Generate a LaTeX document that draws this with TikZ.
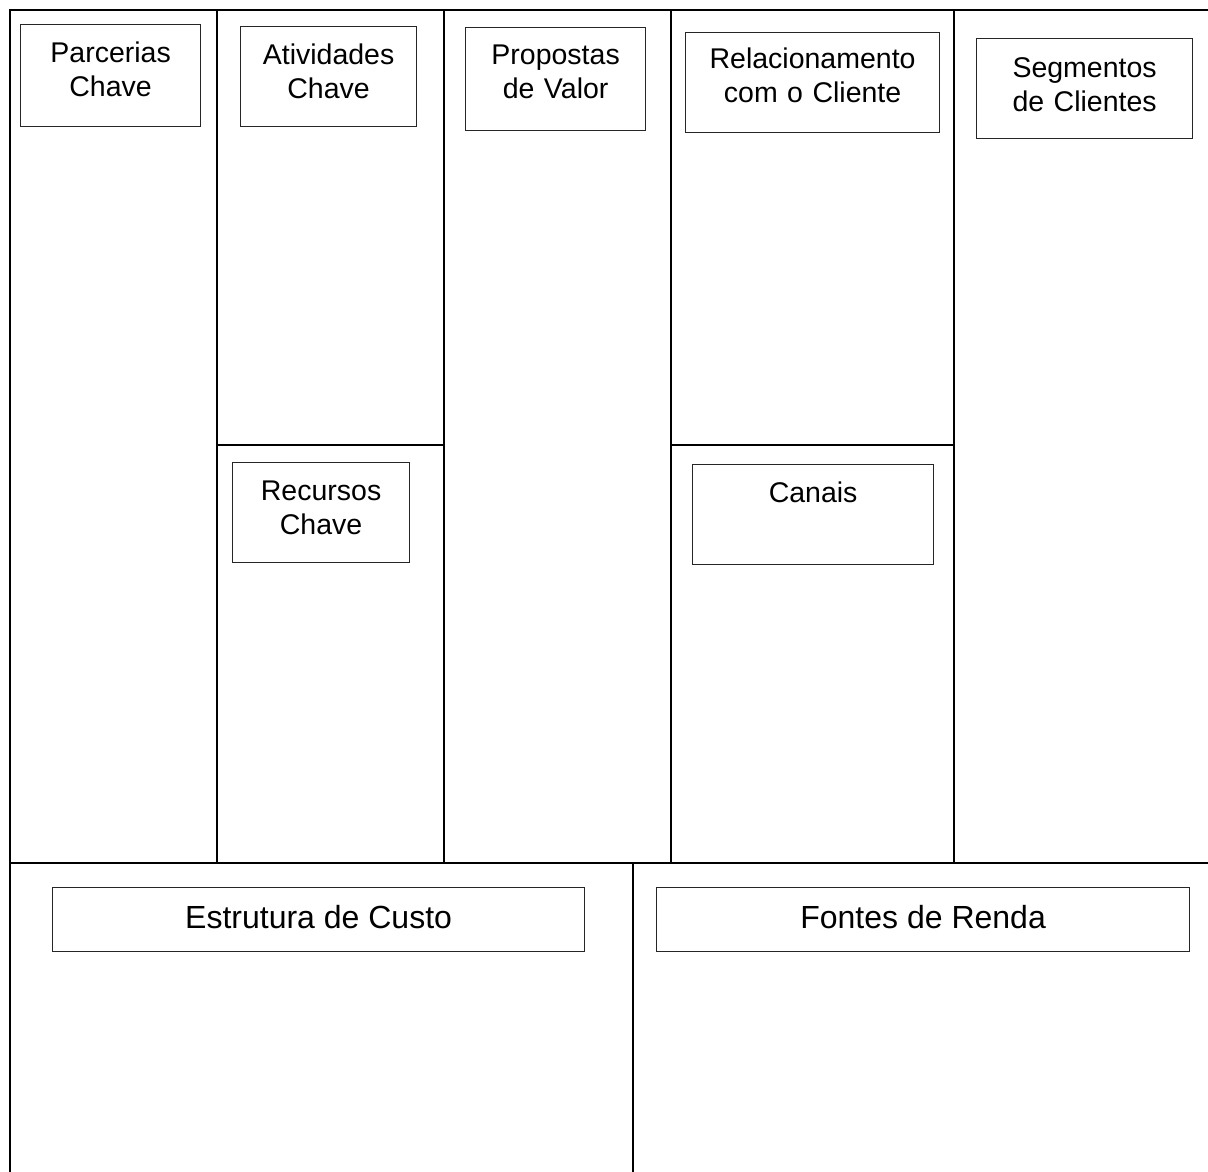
\documentclass[tikz,border=0pt]{standalone}
\usepackage{fontspec}
\setmainfont{Liberation Sans}
\begin{document}
\begin{tikzpicture}[x=1pt,y=-1pt,
  grid/.style={line width=2pt,black},
  cardbox/.style={draw=black!85,line width=1.2pt,rectangle,inner sep=0pt,anchor=north west},
  toplbl/.style={anchor=base,text width=260pt,align=center,inner sep=0pt,
    font=\fontsize{28.5}{34}\selectfont},
  botlbl/.style={anchor=base,inner sep=0pt,font=\fontsize{32}{38}\selectfont}]
\useasboundingbox (0,0) rectangle (1208,1171);
\fill[white] (0,0) rectangle (1208,1171);

% canvas frame (open to the right and the bottom)
\draw[grid] (1212,10) -- (10,10) -- (10,1175);
% column rules of the upper band
\draw[grid] (217,10) -- (217,863);
\draw[grid] (444,10) -- (444,863);
\draw[grid] (671,10) -- (671,863);
\draw[grid] (954,10) -- (954,863);
% split of the second and fourth columns
\draw[grid] (217,445) -- (444,445);
\draw[grid] (671,445) -- (954,445);
% upper / lower band boundary and the lower split
\draw[grid] (10,863) -- (1212,863);
\draw[grid] (633,863) -- (633,1175);

% title boxes
\node[cardbox,minimum width=180pt,minimum height=102pt] (pc) at (20,24) {};
\node[cardbox,minimum width=176pt,minimum height=100pt] (ac) at (240,26) {};
\node[cardbox,minimum width=180pt,minimum height=103pt] (pv) at (465,27) {};
\node[cardbox,minimum width=254pt,minimum height=100pt] (rc) at (685,32) {};
\node[cardbox,minimum width=216pt,minimum height=100pt] (sc) at (976,38) {};
\node[cardbox,minimum width=177pt,minimum height=100pt] (rk) at (232,462) {};
\node[cardbox,minimum width=241pt,minimum height=100pt] (cn) at (692,464) {};
\node[cardbox,minimum width=532pt,minimum height=64pt] (ec) at (52,887) {};
\node[cardbox,minimum width=533pt,minimum height=64pt] (fr) at (656,887) {};

% titles
\node[toplbl] (pct) at ([yshift=-38pt]pc.north) {Parcerias\\Chave};
\node[toplbl] (act) at ([yshift=-38pt]ac.north) {Atividades\\Chave};
\node[toplbl] (pvt) at ([yshift=-37pt]pv.north) {Propostas\\de Valor};
\node[toplbl] (rct) at ([yshift=-36pt]rc.north) {Relacionamento\\com o Cliente};
\node[toplbl] (sct) at ([yshift=-39pt]sc.north) {Segmentos\\de Clientes};
\node[toplbl] (rkt) at ([yshift=-38pt]rk.north) {Recursos\\Chave};
\node[toplbl] (cnt) at ([yshift=-38pt]cn.north) {Canais};
\node[botlbl] (ect) at ([yshift=-41pt]ec.north) {Estrutura de Custo};
\node[botlbl] (frt) at ([yshift=-41pt]fr.north) {Fontes de Renda};
\end{tikzpicture}
\end{document}
